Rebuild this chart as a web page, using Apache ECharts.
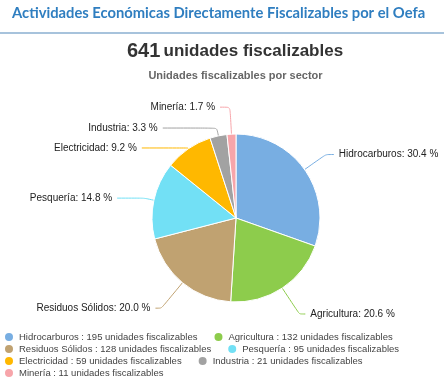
<!DOCTYPE html>
<html>
<head>
<meta charset="utf-8">
<script src="https://cdn.jsdelivr.net/npm/echarts@6/dist/echarts.min.js"></script>
<style>
html,body{margin:0;padding:0;background:#fff;}
#c{width:444px;height:380px;}
</style>
</head>
<body>
<div id="c"></div>
<script>
var categories = ['Hidrocarburos', 'Agricultura', 'Residuos Sólidos', 'Pesquería', 'Electricidad', 'Industria', 'Minería'];
var values = [195, 132, 128, 95, 59, 21, 11];
var colors = ['#78aee2', '#8dcc4c', '#c0a271', '#72e0f5', '#ffb800', '#a2a2a2', '#f7a5aa'];
var total = 641;
var titleText = 'Actividades Económicas Directamente Fiscalizables por el Oefa';
var subtitleText = 'Unidades fiscalizables por sector';
var unitText = 'unidades fiscalizables';

// per-slice label connector lengths (style only)
var lineLen = [26, 31, 33, 10, 1, 8, 27];
var lineLen2 = [8, 6, 6, 27, 46, 54, 10];

var chart = echarts.init(document.getElementById('c'), null, {renderer: 'canvas'});

var sum = values.reduce(function (a, b) { return a + b; }, 0);
var data = categories.map(function (name, i) {
  return {
    name: name,
    value: values[i],
    itemStyle: {color: colors[i]},
    labelLine: {length: lineLen[i], length2: lineLen2[i]}
  };
});

chart.setOption({
  animation: false,
  title: [
    {
      text: titleText,
      left: 12, top: 6, padding: 0,
      textStyle: {fontFamily: 'Lato', fontWeight: 'bold', fontSize: 14.75, color: '#2f7ec0'}
    }
  ],
  graphic: [
    {type: 'line', shape: {x1: 0, y1: 33, x2: 444, y2: 33}, style: {stroke: '#a7c3dc', lineWidth: 2}},
    {
      type: 'text', x: 235, y: 51.5,
      style: {
        text: '{a|' + total + '} {b|' + unitText + '}',
        align: 'center', verticalAlign: 'middle',
        rich: {
          a: {fontFamily: 'Liberation Sans', fontWeight: 'bold', fontSize: 20, fill: '#333'},
          b: {fontFamily: 'Liberation Sans', fontWeight: 'bold', fontSize: 17, fill: '#333'}
        }
      }
    },
    {
      type: 'text', x: 235.5, y: 75.5,
      style: {
        text: subtitleText, align: 'center', verticalAlign: 'middle',
        fontFamily: 'Liberation Sans', fontWeight: 'bold', fontSize: 11, fill: '#666'
      }
    }
  ],
  legend: {
    left: 3, top: 331, width: 435, padding: 0,
    orient: 'horizontal',
    icon: 'circle',
    itemWidth: 10, itemHeight: 10,
    itemGap: 0,
    textStyle: {fontFamily: 'Liberation Sans', fontSize: 9.5, color: '#444', lineHeight: 11.7, padding: [0, 15, 0, 0]},
    formatter: function (name) {
      var i = categories.indexOf(name);
      return name + ' : ' + values[i] + ' ' + unitText;
    },
    data: categories
  },
  series: [{
    type: 'pie',
    center: [236, 218],
    radius: 84,
    startAngle: 90,
    clockwise: true,
    avoidLabelOverlap: false,
    itemStyle: {borderColor: '#fff', borderWidth: 1},
    label: {
      show: true,
      position: 'outside',
      fontFamily: 'Liberation Sans',
      fontSize: 10,
      color: '#222',
      formatter: function (p) {
        return p.name + ': ' + (p.value / sum * 100).toFixed(1) + ' %';
      }
    },
    labelLine: {show: true, smooth: 0.2, lineStyle: {width: 1}},
    data: data
  }]
});
</script>
</body>
</html>
